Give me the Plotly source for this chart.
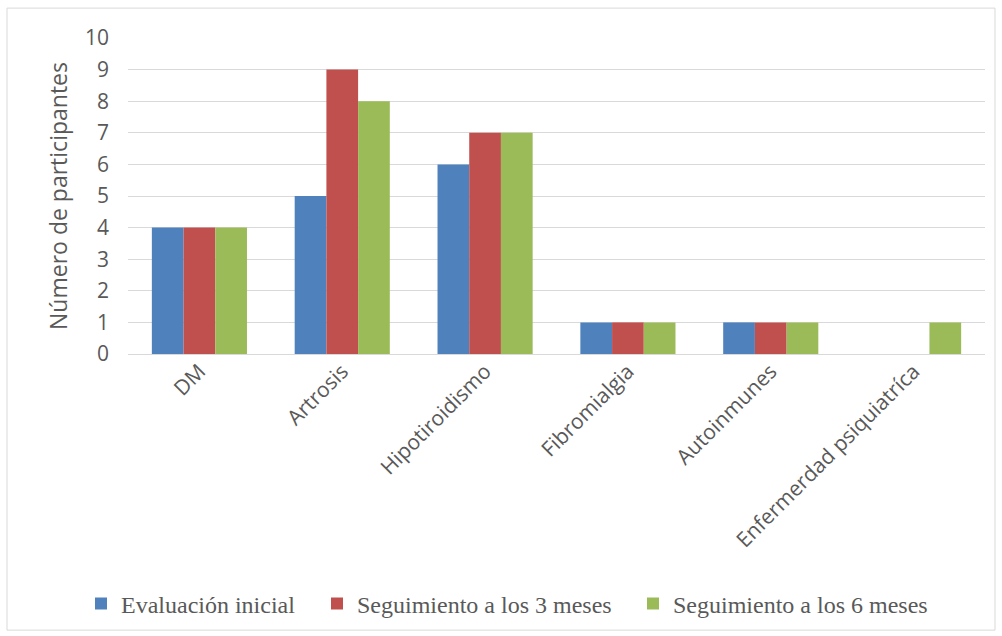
import plotly.graph_objects as go

categories = ["DM", "Artrosis", "Hipotiroidismo", "Fibromialgia", "Autoinmunes", "Enfermerdad psiquiatríca"]
inicial = [4, 5, 6, 1, 1, 0]
meses3 = [4, 9, 7, 1, 1, 0]
meses6 = [4, 8, 7, 1, 1, 1]
series_names = ["Evaluación inicial", "Seguimiento a los 3 meses", "Seguimiento a los 6 meses"]
colors = ["#4f81bd", "#c0504d", "#9bbb59"]
legend_ids = ["legend", "legend2", "legend3"]

fig = go.Figure()
for name, vals, c, lg in zip(series_names, [inicial, meses3, meses6], colors, legend_ids):
    fig.add_trace(go.Bar(x=categories, y=vals, name=name, legend=lg,
                         marker=dict(color=c, line=dict(width=0))))

L, R, T, B = 128, 17, 38, 281
W, H = 1002, 636
pw = W - L - R
ph = H - T - B

legend_text_px = [121, 357, 673]
legend_font = dict(family="Liberation Serif", size=24, color="#595959")
leg_y = (H - B - 604) / ph


def leg(px):
    return dict(orientation="h", x=(px - 40 - L) / pw, xanchor="left", y=leg_y, yanchor="middle",
                font=legend_font, itemwidth=30, bgcolor="rgba(0,0,0,0)", borderwidth=0)


fig.update_layout(
    width=W, height=H,
    margin=dict(l=L, r=R, t=T, b=B),
    barmode="group", bargap=0.334, bargroupgap=0,
    plot_bgcolor="white", paper_bgcolor="white",
    font=dict(family="Open Sans", color="#595959"),
    xaxis=dict(tickangle=-45, tickfont=dict(size=21, color="#595959"), showgrid=False,
               showline=False, ticks=""),
    yaxis=dict(range=[0, 10], dtick=1, tickfont=dict(size=21, color="#595959"),
               gridcolor="#d9d9d9", gridwidth=1, zeroline=True, zerolinecolor="#d9d9d9", zerolinewidth=1,
               title=dict(text="Número de participantes", font=dict(size=23, color="#595959"), standoff=10),
               ticks="", ticklabelstandoff=18),
    legend=leg(legend_text_px[0]),
    legend2=leg(legend_text_px[1]),
    legend3=leg(legend_text_px[2]),
    showlegend=True,
    shapes=[dict(type="rect", xref="paper", yref="paper",
                 x0=(7 - L) / pw, x1=(995 - L) / pw,
                 y0=-(632 - (H - B)) / ph, y1=1 + (T - 8) / ph,
                 line=dict(color="#d9d9d9", width=1), fillcolor="rgba(0,0,0,0)", layer="below")],
)
fig.write_html("out.html")
